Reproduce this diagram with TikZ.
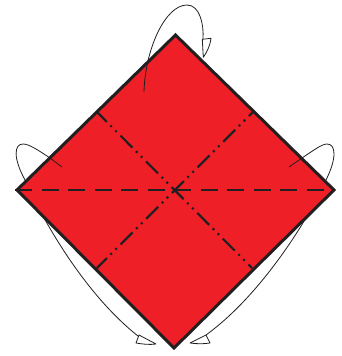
\documentclass[tikz,border=0pt]{standalone}
\usepackage{xcolor}
\usetikzlibrary{calc}
\definecolor{foldred}{HTML}{EE1F27}
\definecolor{inkdark}{HTML}{231F20}
\tikzset{
  sheet/.style={draw=inkdark,fill=foldred,line width=3pt,miter limit=10},
  valley/.style={draw=inkdark,line width=2.2pt,dash pattern=on 17pt off 9.5pt},
  mountain/.style={draw=inkdark,line width=2.2pt,dash pattern=on 17pt off 5pt on 2pt off 5pt on 2pt off 5.3pt,dash phase=3pt},
  foldarc/.style={draw=inkdark,line width=0.8pt},
  arrowhead/.style={draw=inkdark,fill=white,line width=0.8pt,line join=round}
}
\begin{document}
\begin{tikzpicture}[x=1pt,y=-1pt]
  \useasboundingbox (0,0) rectangle (342,356);
  % Corners of the sheet
  \coordinate (top) at (175.5,35);
  \coordinate (left) at (17,190);
  \coordinate (right) at (334,190);
  \coordinate (bottom) at (174,348);
  % Arcs passing behind the sheet
  \draw[foldarc] (50,158) .. controls (38,150) and (29,144) .. (23,144)
    .. controls (14,144) and (13,158) .. (25,180)
    .. controls (38,210) and (80,290) .. (138,336);
  \draw[foldarc] (302,158) .. controls (314,150) and (322,144) .. (327,144)
    .. controls (336,144) and (337,158) .. (326,180)
    .. controls (312,212) and (265,292) .. (206,335);
  % Sheet
  \draw[sheet] (top) -- (right) -- (bottom) -- (left) -- cycle;
  % Fold lines
  \draw[valley] (15,190) -- (333,190);
  \draw[mountain] (97,112) -- (252,268);
  \draw[mountain] (97,268) -- (253,112);
  % Arc starts on the sheet
  \draw[foldarc] (62,167) -- (50,158);
  \draw[foldarc] (289,167) -- (302,158);
  % Top arc
  \draw[foldarc] (144,92) .. controls (145,50) and (165,5) .. (187,5)
    .. controls (200,5) and (204,25) .. (203,39);
  % Arrowheads
  \draw[arrowhead] (202.3,39.3) -- (211,38.3) .. controls (210,46) and (207,52) .. (203.3,57.3) -- cycle;
  \draw[arrowhead] (139,335) -- (156,344) .. controls (149,345) and (142,344) .. (136,343) -- cycle;
  \draw[arrowhead] (206,335) -- (190,343) .. controls (197,344) and (204,344) .. (210,343) -- cycle;
\end{tikzpicture}
\end{document}
